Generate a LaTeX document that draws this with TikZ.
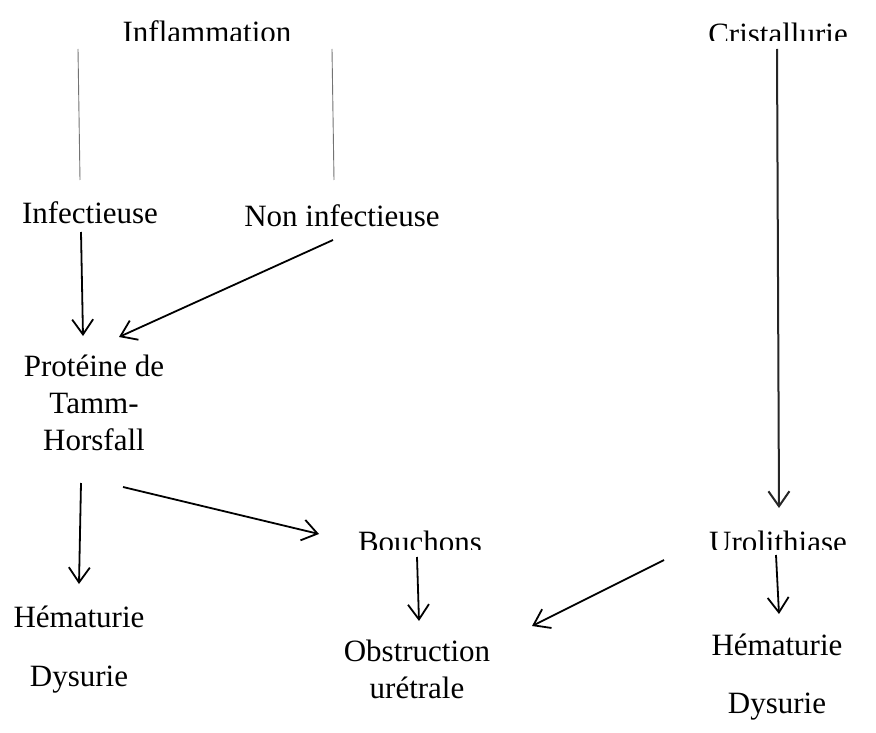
\documentclass[tikz,border=0pt]{standalone}
\usepackage{fontspec}
\setmainfont{Liberation Serif}
\usetikzlibrary{arrows.meta}
\begin{document}
\begin{tikzpicture}[x=1pt,y=-1pt,
  lbl/.style={font=\fontsize{31}{37}\selectfont, inner sep=0pt, anchor=base, align=center, text=black},
  grayline/.style={draw=black!55, line width=0.9pt},
  arr/.style={draw=black, line width=1.8pt, -{Straight Barb[length=15pt,width=21pt]}}
]
\useasboundingbox[fill=white] (0,0) rectangle (876,733);

% clipped headings
\begin{scope}
  \clip (0,0) rectangle (876,41);
  \node[lbl] (infl) at (207,43) {Inflammation};
  \node[lbl] (crist) at (778,45) {Cristallurie};
\end{scope}
\begin{scope}
  \clip (300,520) rectangle (876,549);
  \node[lbl] (bouch) at (420,552) {Bouchons};
  \node[lbl] (uro) at (778,552) {Urolithiase};
\end{scope}

\node[lbl] (infect) at (90,223) {Infectieuse};
\node[lbl] (noninf) at (342,226) {Non infectieuse};
\node[lbl] (thp) at (94,450) {Protéine de\\Tamm-\\Horsfall};
\node[lbl] (hemL) at (79,627) {Hématurie};
\node[lbl] (dysL) at (79,686) {Dysurie};
\node[lbl] (obst) at (417,698) {Obstruction\\urétrale};
\node[lbl] (hemR) at (777,655) {Hématurie};
\node[lbl] (dysR) at (777,713) {Dysurie};

% connector end points
\coordinate (l1a) at (78,49);  \coordinate (l1b) at (80,180);
\coordinate (l2a) at (332,49); \coordinate (l2b) at (334,180);
\coordinate (a1a) at (81,232); \coordinate (a1b) at (83,336);
\coordinate (a2a) at (333,240); \coordinate (a2b) at (119,337);
\coordinate (a3a) at (777,49); \coordinate (a3b) at (779,508);
\coordinate (a4a) at (81,483); \coordinate (a4b) at (79,584);
\coordinate (a5a) at (123,487); \coordinate (a5b) at (319,534);
\coordinate (a6a) at (417,557); \coordinate (a6b) at (419,621);
\coordinate (a7a) at (664,560); \coordinate (a7b) at (532,626);
\coordinate (a8a) at (776,555); \coordinate (a8b) at (779,614);

\draw[grayline] (l1a) -- (l1b);
\draw[grayline] (l2a) -- (l2b);
\draw[arr] (a1a) -- (a1b);
\draw[arr] (a2a) -- (a2b);
\draw[arr, line width=2pt, draw=black!85] (a3a) -- (a3b);
\draw[arr] (a4a) -- (a4b);
\draw[arr] (a5a) -- (a5b);
\draw[arr] (a6a) -- (a6b);
\draw[arr] (a7a) -- (a7b);
\draw[arr] (a8a) -- (a8b);
\end{tikzpicture}
\end{document}
